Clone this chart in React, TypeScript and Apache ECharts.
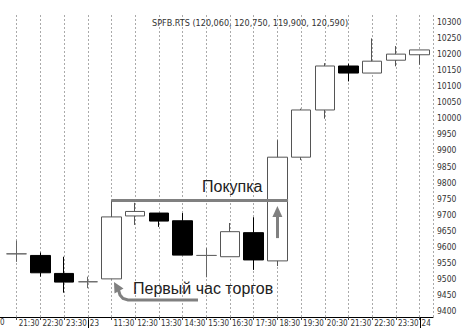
import React, { useEffect, useRef } from "react";
import * as echarts from "echarts";

const titleText = "SPFB.RTS (120,060, 120,750, 119,900, 120,590)";
const timeLabels = ["20:30", "21:30", "22:30", "23:30", "23", "11:30", "12:30", "13:30", "14:30", "15:30", "16:30", "17:30", "18:30", "19:30", "20:30", "21:30", "22:30", "23:30", "24"];
const dayBreaks = [4, 18];
const candleIdx = [1, 2, 3, 4, 5, 6, 7, 8, 9, 10, 11, 12, 13, 14, 15, 16, 17, 18];
const opens = [9578, 9573, 9517, 9491, 9500, 9696, 9705, 9681, 9573, 9569, 9644, 9556, 9879, 10026, 10163, 10141, 10181, 10198];
const closes = [9578, 9519, 9490, 9491, 9693, 9710, 9680, 9574, 9573, 9647, 9559, 9879, 10026, 10163, 10141, 10178, 10200, 10213];
const lows = [9553, 9507, 9457, 9471, 9499, 9668, 9662, 9574, 9505, 9569, 9528, 9540, 9870, 9999, 10115, 10141, 10162, 10167];
const highs = [9619, 9582, 9569, 9507, 9744, 9737, 9705, 9705, 9596, 9674, 9692, 9932, 10030, 10172, 10170, 10249, 10225, 10213];
const buyLevel = 9744;
const buyFrom = 5;
const buyTo = 12.45;
const arrowIdx = 12;
const arrowFrom = 9627;
const arrowTo = 9710;
const noteBuy = "Покупка";
const noteFirst = "Первый час торгов";

const narrow = "'Liberation Sans Narrow', 'DejaVu Sans Condensed', Arial, sans-serif";
const sans = "'Liberation Sans', Arial, Helvetica, sans-serif";

export default function App() {
  const ref = useRef<HTMLDivElement>(null);
  useEffect(() => {
    if (!ref.current) return;
    const chart = echarts.init(ref.current, undefined, { renderer: "svg" });
    const data = candleIdx.map((x, k) => [x, opens[k], closes[k], lows[k], highs[k]]);
    chart.setOption({
      animation: false,
      backgroundColor: "#fff",
      title: {
        text: titleText,
        left: 147,
        top: 13,
        textStyle: { fontSize: 9, fontWeight: "normal", color: "#333", fontFamily: narrow },
      },
      grid: [
        { left: -7, right: 34, top: 22, bottom: 21, containLabel: false, outerBoundsMode: "none" },
        { left: -7, right: 34, top: 15, bottom: 15, containLabel: false, outerBoundsMode: "none" },
      ],
      xAxis: [
        {
          type: "value",
          gridIndex: 1,
          min: 0,
          max: 18.565,
          interval: 1,
          axisLine: { show: true, lineStyle: { color: "#000", width: 1 } },
          axisTick: { show: true, length: 3, lineStyle: { color: "#444" } },
          splitLine: { show: true, lineStyle: { color: "#aaa", type: [2, 2], width: 1 } },
          axisLabel: {
            show: true,
            align: "left",
            margin: 2,
            padding: [0, 0, 0, 2],
            fontSize: 8,
            color: "#333",
            fontFamily: narrow,
            showMaxLabel: false,
            showMinLabel: false,
            hideOverlap: false,
            formatter: (v: number) =>
              Number.isInteger(v) && v > 0 && timeLabels[v] !== undefined ? timeLabels[v] : "",
          },
        },
        { type: "value", gridIndex: 0, min: 0, max: 1, show: false },
      ],
      yAxis: [
        {
          type: "value",
          gridIndex: 0,
          position: "right",
          min: 9400,
          max: 10300,
          interval: 50,
          axisLine: { show: false },
          axisTick: { show: true, length: 4, lineStyle: { color: "#222" } },
          minorTick: { show: true, splitNumber: 5, length: 2, lineStyle: { color: "#222" } },
          splitLine: { show: false },
          axisLabel: {
            show: true,
            margin: 4,
            fontSize: 8.5,
            color: "#333",
            fontFamily: narrow,
            formatter: (v: number) => String(v),
          },
        },
        {
          type: "value",
          gridIndex: 1,
          position: "right",
          min: 9381.3,
          max: 10321.8,
          axisLine: { show: true, lineStyle: { color: "#000", width: 1 } },
          axisTick: { show: false },
          axisLabel: { show: false },
          splitLine: { show: false },
        },
      ],
      series: [
        {
          type: "candlestick",
          xAxisIndex: 0,
          yAxisIndex: 1,
          barWidth: 20,
          data,
          encode: { x: 0, y: [1, 2, 3, 4] },
          itemStyle: {
            color: "#fff",
            color0: "#000",
            borderColor: "#555",
            borderColor0: "#000",
            borderColorDoji: "#666",
            borderWidth: 1,
          },
          markLine: {
            silent: true,
            animation: false,
            label: { show: false },
            data: [
              [
                { coord: [buyFrom, buyLevel], symbol: "none" },
                { coord: [buyTo, buyLevel], symbol: "none" },
              ],
              [
                { coord: [arrowIdx, arrowFrom], symbol: "none" },
                { coord: [arrowIdx, arrowTo], symbol: "triangle", symbolSize: [10, 11] },
              ],
            ],
            lineStyle: { color: "#808080", width: 3, type: "solid" },
            itemStyle: { color: "#808080" },
          },
        },
      ],
    });

    const axisY = chart.convertToPixel({ yAxisIndex: 1 }, 9381.3) as number;
    const breakLines = dayBreaks.map((d) => {
      const px = Math.round(chart.convertToPixel({ xAxisIndex: 0 }, d) as number) + 0.5;
      return {
        type: "line",
        shape: { x1: px, y1: axisY, x2: px, y2: axisY + 11 },
        style: { stroke: "#000", lineWidth: 1 },
      };
    });

    chart.setOption({
      graphic: [
        {
          type: "text",
          left: 0,
          top: 318,
          style: { text: "0", fontSize: 8, fill: "#333", fontFamily: narrow },
        },
        ...breakLines,
        {
          type: "text",
          left: 202,
          top: 178,
          style: { text: noteBuy, fontSize: 16, fill: "#222", fontFamily: sans },
        },
        {
          type: "text",
          left: 133,
          top: 280,
          style: { text: noteFirst, fontSize: 16, fill: "#222", fontFamily: sans },
        },
        {
          type: "polyline",
          shape: { points: [[118.5, 290], [120, 295], [123, 298.5], [128, 300], [198, 300]] },
          style: { stroke: "#808080", lineWidth: 3, fill: "none" },
        },
        {
          type: "polygon",
          shape: { points: [[114, 282], [123.5, 288.5], [114.5, 293.5]] },
          style: { fill: "#808080" },
        },
      ],
    });
    return () => chart.dispose();
  }, []);
  return (
    <div
      ref={ref}
      style={{ position: "absolute", left: 0, top: 0, width: 467, height: 332, background: "#fff" }}
    />
  );
}
